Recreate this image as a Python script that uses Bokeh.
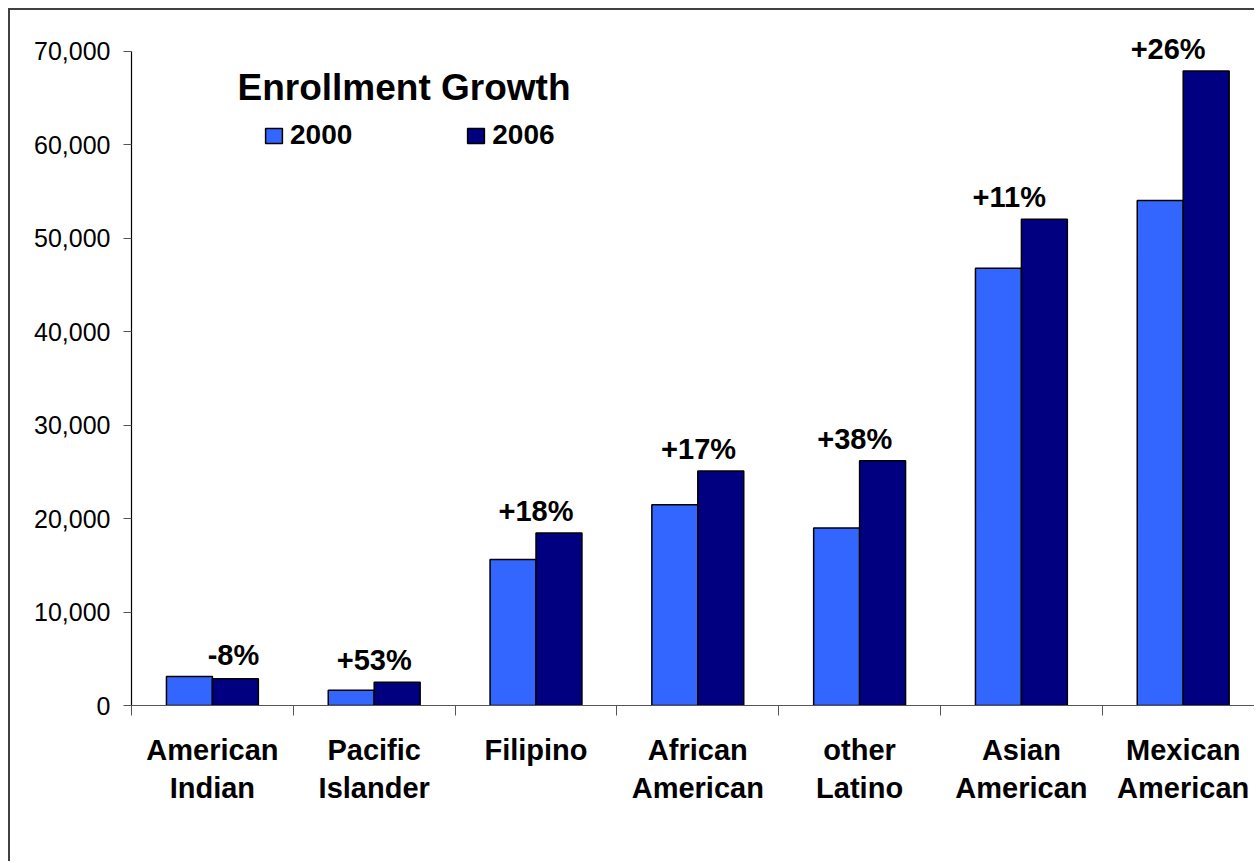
import numpy as np
from bokeh.plotting import figure
from bokeh.models import (ColumnDataSource, FixedTicker, NumeralTickFormatter,
                          Range1d, Label, Legend, LegendItem)
from bokeh.core.properties import value
from bokeh.embed import file_html
from bokeh.resources import INLINE

categories = ["American\nIndian", "Pacific\nIslander", "Filipino", "African\nAmerican",
              "other\nLatino", "Asian\nAmerican", "Mexican\nAmerican"]
enroll_2000 = [3100, 1630, 15630, 21500, 19000, 46800, 54050]
enroll_2006 = [2870, 2500, 18450, 25100, 26200, 52050, 67900]
growth_labels = ["-8%", "+53%", "+18%", "+17%", "+38%", "+11%", "+26%"]
growth_label_dx = [0.13, 0.0, 0.0, 0.005, -0.03, -0.075, -0.093]
y_ticks = [0, 10000, 20000, 30000, 40000, 50000, 60000, 70000]

FONT = "Liberation Sans"
C2000 = "#3366FF"
C2006 = "#000080"

n = len(categories)
centers = np.arange(n) + 0.5
bw = 0.284

src = ColumnDataSource(dict(
    x0=centers - bw / 2, x6=centers + bw / 2,
    v0=enroll_2000, v6=enroll_2006,
    lx=centers + np.array(growth_label_dx),
    ly=np.maximum(enroll_2000, enroll_2006),
    lab=growth_labels,
))

p = figure(width=1246, height=853, output_backend="svg", toolbar_location=None,
           x_range=Range1d(0, 6.953), y_range=Range1d(0, 74281),
           min_border_left=121, min_border_top=1, min_border_bottom=158,
           min_border_right=0)
p.styles = {"margin-left": "8px", "margin-top": "8px",
            "border-left": "2px solid #404040", "border-top": "2px solid #404040"}
p.outline_line_color = None
p.xgrid.visible = False
p.ygrid.visible = False
p.background_fill_color = "white"
p.border_fill_color = "white"

r0 = p.vbar(x="x0", top="v0", width=bw, source=src, fill_color=C2000,
            line_color="black", line_width=1.5)
r6 = p.vbar(x="x6", top="v6", width=bw, source=src, fill_color=C2006,
            line_color="black", line_width=1.5)

p.text(x="lx", y="ly", text="lab", source=src, text_font=value(FONT),
       text_font_style="bold", text_font_size="29px", text_align="center",
       text_baseline="middle", y_offset=-22, text_color="black")

# y axis
ya = p.yaxis[0]
ya.ticker = FixedTicker(ticks=y_ticks, minor_ticks=[])
ya.bounds = (0, 70000)
ya.formatter = NumeralTickFormatter(format="0,0")
ya.major_label_text_font = FONT
ya.major_label_text_font_size = "25px"
ya.major_label_text_color = "black"
ya.axis_line_color = "black"
ya.axis_line_width = 1.2
ya.major_tick_line_color = "#555555"
ya.major_tick_out = 8
ya.major_tick_in = 0
ya.major_label_standoff = 13

# x axis
xa = p.xaxis[0]
xa.ticker = FixedTicker(ticks=list(centers), minor_ticks=list(range(n + 1)))
xa.major_label_overrides = {float(c): lab for c, lab in zip(centers, categories)}
xa.major_label_text_font = FONT
xa.major_label_text_font_style = "bold"
xa.major_label_text_font_size = "29px"
xa.major_label_text_color = "black"
xa.major_tick_line_color = None
xa.major_tick_out = 10
xa.major_tick_in = 0
xa.minor_tick_line_color = "#555555"
xa.minor_tick_out = 10
xa.minor_tick_in = 0
xa.axis_line_color = "#555555"
xa.axis_line_width = 1.2
xa.major_label_standoff = 18

# title inside plot
p.add_layout(Label(x=0.655, y=66150, text="Enrollment Growth", text_font=FONT,
                   text_font_style="bold", text_font_size="37px",
                   text_baseline="middle", text_color="black"))

legend = Legend(items=[LegendItem(label="2000", renderers=[r0]),
                       LegendItem(label="2006", renderers=[r6])],
                orientation="horizontal", location=(132, 554),
                glyph_width=21, glyph_height=19, label_standoff=6, spacing=113,
                padding=0, margin=0, border_line_color=None,
                background_fill_alpha=0, label_text_font=FONT,
                label_text_color="black",
                label_text_font_style="bold", label_text_font_size="28px")
p.add_layout(legend)

open("out.html", "w").write(file_html(p, INLINE))
